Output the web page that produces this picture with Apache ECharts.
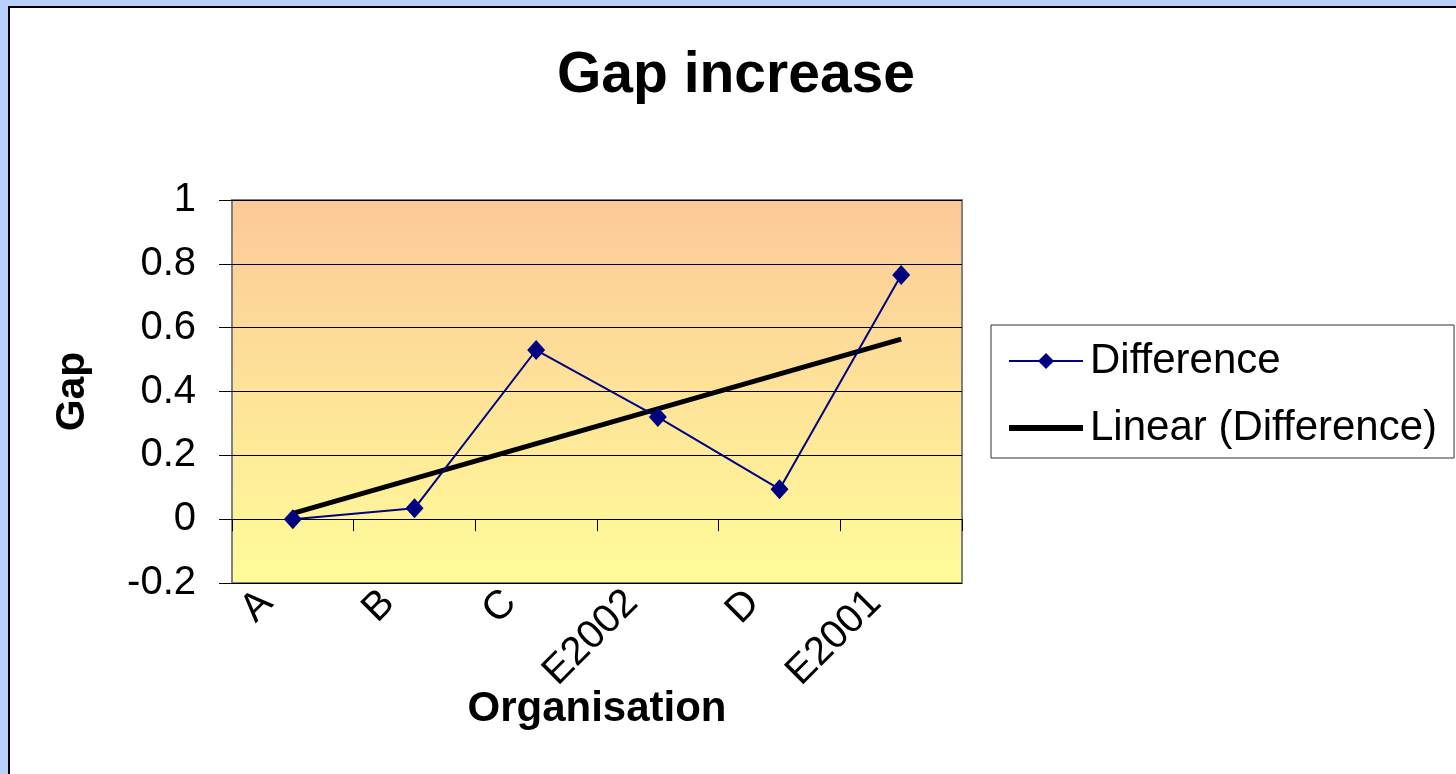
<!DOCTYPE html>
<html>
<head>
<meta charset="utf-8">
<title>Gap increase</title>
<script src="https://cdn.jsdelivr.net/npm/echarts@6/dist/echarts.min.js"></script>
<style>
  html, body { margin: 0; padding: 0; background: #b9cffe; overflow: hidden; }
  #frame {
    position: absolute; left: 8px; top: 6px; width: 1460px; height: 780px;
    background: #fff; border-left: 2px solid #000; border-top: 2px solid #000;
  }
  #chart { position: absolute; left: 0; top: 0; width: 1456px; height: 774px; }
</style>
</head>
<body>
<div id="frame"></div>
<div id="chart"></div>
<script>
// organisations along the x axis
const organisations = ['A', 'B', 'C', 'E2002', 'D', 'E2001']
// gap difference per organisation
const difference = [0, 0.034, 0.53, 0.32, 0.094, 0.765]
// excel trend line, read at first and last organisation
const trendLine = [0.018, null, null, null, null, 0.564]
// y axis ticks
const gapMin = -0.2
const gapMax = 1
const gapStep = 0.2

const font = 'Liberation Sans, Arial, sans-serif'

const chart = echarts.init(document.getElementById('chart'))

chart.setOption({
  animation: false,
  textStyle: { fontFamily: font },
  title: {
    text: 'Gap increase',
    left: 731,
    top: 43,
    textAlign: 'center',
    textStyle: { fontSize: 57, fontWeight: 'bold', color: '#000', fontFamily: font }
  },
  legend: {
    orient: 'vertical',
    left: 991,
    top: 325,
    padding: [13, 17, 7, 15],
    itemGap: 21,
    itemWidth: 74,
    itemHeight: 20,
    backgroundColor: '#fff',
    borderColor: '#333',
    borderWidth: 1,
    data: [
      { name: 'Difference' },
      // no marker on the trend line, only a thick line
      { name: 'Linear (Difference)', itemStyle: { opacity: 0 }, lineStyle: { width: 6, color: '#000' } }
    ],
    textStyle: { fontSize: 42, lineHeight: 46, color: '#000', padding: [0, 0, 0, 2], fontFamily: font }
  },
  grid: {
    show: true,
    left: 232,
    top: 200,
    width: 730,
    height: 383,
    borderColor: '#808080',
    borderWidth: 2,
    backgroundColor: new echarts.graphic.LinearGradient(0, 0, 0, 1, [
      { offset: 0, color: '#fcc998' },
      { offset: 1, color: '#fffc99' }
    ])
  },
  xAxis: [{
    // line through zero with the ticks between organisations
    type: 'category',
    data: organisations,
    position: 'bottom',
    axisLine: { onZero: true, lineStyle: { color: '#000', width: 1 } },
    axisTick: { show: true, length: 12, lineStyle: { color: '#000' } },
    axisLabel: { show: false },
    splitLine: { show: false }
  }, {
    // labels along the bottom of the plot
    type: 'category',
    data: organisations,
    position: 'bottom',
    axisLine: { show: false, onZero: false },
    axisTick: { show: false },
    axisLabel: {
      rotate: 45,
      margin: 40,
      fontSize: 40,
      color: '#000',
      fontFamily: font,
      verticalAlign: 'bottom',
      padding: [0, 0, 17, 0]
    },
    name: 'Organisation',
    nameLocation: 'middle',
    nameGap: 101,
    nameMoveOverlap: false,
    nameTextStyle: { fontSize: 42, lineHeight: 50, fontWeight: 'bold', color: '#000', fontFamily: font }
  }],
  yAxis: {
    type: 'value',
    min: gapMin,
    max: gapMax,
    interval: gapStep,
    axisLine: { show: false },
    axisTick: { show: true, length: 13, lineStyle: { color: '#000' } },
    axisLabel: {
      margin: 36,
      fontSize: 40,
      color: '#000',
      fontFamily: font,
      formatter: v => String(Math.round(v * 10) / 10)
    },
    splitLine: { lineStyle: { color: '#000', width: 1 } },
    name: 'Gap',
    nameLocation: 'middle',
    nameRotate: 90,
    nameGap: 139,
    nameTextStyle: { fontSize: 41, fontWeight: 'bold', color: '#000', fontFamily: font }
  },
  series: [{
    name: 'Difference',
    type: 'line',
    xAxisIndex: 0,
    data: difference,
    symbol: 'diamond',
    symbolSize: [18, 20],
    color: '#000080',
    lineStyle: { color: '#000080', width: 2 },
    itemStyle: { color: '#000080' },
    z: 3
  }, {
    name: 'Linear (Difference)',
    type: 'line',
    xAxisIndex: 0,
    data: trendLine,
    connectNulls: true,
    symbol: 'none',
    color: '#000',
    lineStyle: { color: '#000', width: 5 },
    z: 2
  }]
})
</script>
</body>
</html>
